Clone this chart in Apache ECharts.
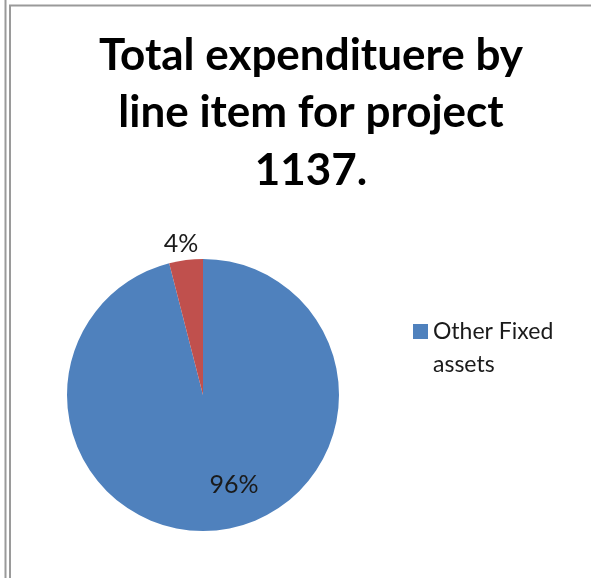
<!DOCTYPE html>
<html>
<head>
<meta charset="utf-8">
<style>
  html, body { margin: 0; padding: 0; background: #fff; }
  #chart { width: 591px; height: 578px; }
</style>
<script src="https://cdn.jsdelivr.net/npm/echarts@6/dist/echarts.min.js"></script>
</head>
<body>
<div id="chart"></div>
<script>
// Expenditure shares by line item
const titleText = 'Total expendituere by\nline item for project\n1137.';
const categories = ['Other Fixed assets', ''];
const values = [96, 4];
const sliceColors = ['#4F81BD', '#C0504D'];
const legendItems = ['Other Fixed assets'];

const FONT = 'Lato, "Open Sans", sans-serif';

const chart = echarts.init(document.getElementById('chart'), null, { renderer: 'canvas' });

const data = categories.map((name, i) => ({
  name: name,
  value: values[i],
  itemStyle: { color: sliceColors[i] },
  label: i === 0
    ? { position: 'inside' }
    : { position: 'outside' },
  labelLine: { show: false }
}));

// nudges for the two percentage labels
const labelShift = [
  { dx: 22, dy: 19 },
  { dx: 18, dy: -10 }
];

chart.setOption({
  backgroundColor: '#ffffff',
  animation: false,
  title: {
    text: titleText,
    left: 306,
    top: 22,
    textAlign: 'center',
    textStyle: {
      fontFamily: FONT,
      fontSize: 44,
      fontWeight: 'bold',
      color: '#000000',
      lineHeight: 57.5
    }
  },
  legend: {
    data: legendItems,
    orient: 'vertical',
    left: 408,
    top: 277,
    itemWidth: 15,
    itemHeight: 15,
    itemGap: 8,
    icon: 'rect',
    textStyle: {
      fontFamily: FONT,
      fontSize: 23,
      color: '#1a1a1a',
      width: 150,
      overflow: 'break',
      lineHeight: 33
    },
    // leading blank line keeps the swatch level with the first text line
    formatter: name => '\n' + name.replace(' assets', '\nassets')
  },
  series: [{
    type: 'pie',
    center: [203, 395],
    radius: [0, 136],
    startAngle: 90,
    clockwise: true,
    avoidLabelOverlap: false,
    label: {
      show: true,
      formatter: p => Math.round(p.percent) + '%',
      fontFamily: FONT,
      fontSize: 25,
      color: '#1a1a1a'
    },
    labelLine: { show: false, length: 6, length2: 0 },
    labelLayout: p => labelShift[p.dataIndex],
    emphasis: { disabled: true },
    data: data
  }],
  graphic: [
    { type: 'line', shape: { x1: 5.5, y1: 0, x2: 5.5, y2: 578 }, style: { stroke: '#9a9a9a', lineWidth: 2 } },
    { type: 'line', shape: { x1: 10, y1: 5.5, x2: 10, y2: 578 }, style: { stroke: '#9a9a9a', lineWidth: 2 } },
    { type: 'line', shape: { x1: 9, y1: 5.5, x2: 591, y2: 5.5 }, style: { stroke: '#9a9a9a', lineWidth: 2 } }
  ]
});
</script>
</body>
</html>
